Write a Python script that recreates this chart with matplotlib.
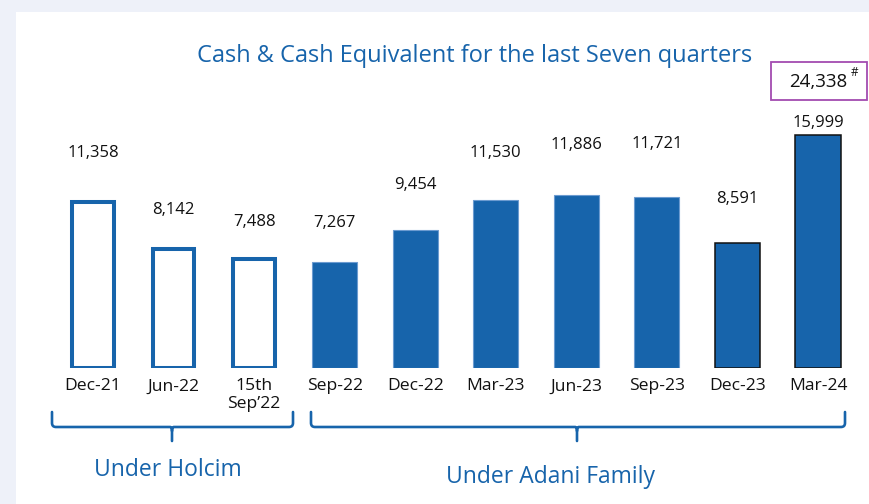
import matplotlib.pyplot as plt
from matplotlib.patches import Rectangle, PathPatch
from matplotlib.path import Path

plt.rcParams['font.family'] = ['Open Sans', 'DejaVu Sans']

quarters = ['Dec-21', 'Jun-22', '15th\nSep\u201922', 'Sep-22', 'Dec-22',
            'Mar-23', 'Jun-23', 'Sep-23', 'Dec-23', 'Mar-24']
cash = [11358, 8142, 7488, 7267, 9454, 11530, 11886, 11721, 8591, 15999]
value_labels = ['11,358', '8,142', '7,488', '7,267', '9,454',
                '11,530', '11,886', '11,721', '8,591', '15,999']
holcim = [True, True, True, False, False, False, False, False, False, False]
boxed_total = '24,338'

blue = '#1764ab'
W, H = 869, 504

fig = plt.figure(figsize=(W / 100, H / 100), dpi=100)
fig.patch.set_facecolor('#eef1f9')
fig.patches.append(Rectangle((16 / W, 0), 1, 1 - 12 / H, transform=fig.transFigure,
                             facecolor='white', edgecolor='none', zorder=-5))

# main bar axes
ax = fig.add_axes([52.7 / W, (H - 368) / H, 805.6 / W, 247.8 / H])
ax.patch.set_alpha(0)
x = list(range(len(cash)))
for i, v in enumerate(cash):
    if holcim[i]:
        ax.bar(i, v, width=0.52, facecolor='white', edgecolor=blue, linewidth=2.9)
    elif i >= 8:
        ax.bar(i, v, width=0.56, facecolor=blue, edgecolor='#111111', linewidth=1.1)
    else:
        ax.bar(i, v, width=0.56, facecolor=blue, edgecolor='#6c9bd0', linewidth=0.8)

lift = [49, 39, 37, 39, 45, 47, 50, 53, 44, 12]  # px above bar top
for i, v in enumerate(cash):
    ax.annotate(value_labels[i], (i, v), xytext=(0, lift[i] * 0.72),
                textcoords='offset points', ha='center', va='center',
                fontsize=12, color='#111111')

ax.set_xlim(-0.5, len(cash) - 0.5)
ax.set_ylim(0, 17000)
ax.set_xticks(x)
ax.set_xticklabels(quarters, fontsize=12.6, color='#111111', linespacing=1.1)
ax.tick_params(axis='x', length=0, pad=7.5)
ax.set_yticks([])
for s in ax.spines.values():
    s.set_visible(False)

# overlay in pixel coordinates for title, braces and box
ov = fig.add_axes([0, 0, 1, 1])
ov.set_xlim(0, W)
ov.set_ylim(H, 0)
ov.axis('off')
ov.patch.set_alpha(0)

ov.text(475, 56, 'Cash & Cash Equivalent for the last Seven quarters',
        ha='center', va='center', fontsize=17, color=blue)


def brace(x0, x1, xm, top=412, yb=427, tip=441):
    r = 4
    verts = [(x0, top), (x0, yb - r), (x0, yb), (x0 + r, yb),
             (xm - 2, yb), (xm, yb), (xm, yb + 4), (xm, tip),
             (xm, yb + 4), (xm, yb), (xm + 2, yb),
             (x1 - r, yb), (x1, yb), (x1, yb - r), (x1, top)]
    codes = [Path.MOVETO, Path.LINETO, Path.CURVE3, Path.CURVE3,
             Path.LINETO, Path.CURVE3, Path.CURVE3, Path.LINETO,
             Path.MOVETO, Path.CURVE3, Path.CURVE3,
             Path.LINETO, Path.CURVE3, Path.CURVE3, Path.LINETO]
    ov.add_patch(PathPatch(Path(verts, codes), facecolor='none',
                           edgecolor=blue, linewidth=1.9, capstyle='round'))


brace(52, 293, 172)
brace(311, 845, 577)
ov.text(168, 470, 'Under Holcim', ha='center', va='center', fontsize=16.5, color=blue)
ov.text(551, 477, 'Under Adani Family', ha='center', va='center', fontsize=16.5, color=blue)

ov.add_patch(Rectangle((771, 62), 96, 38, facecolor='white',
                       edgecolor='#a24bb0', linewidth=1.3))
ov.text(818, 82, boxed_total, ha='center', va='center', fontsize=13.5, color='#111111')
ov.text(855, 72, '#', ha='center', va='center', fontsize=8.5, color='#111111')

fig.savefig('out.png', dpi=100, facecolor=fig.get_facecolor())
